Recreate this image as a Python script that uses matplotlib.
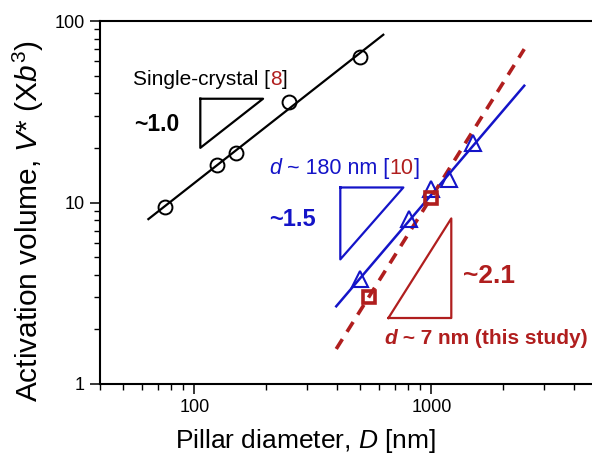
import matplotlib
matplotlib.use("Agg")
import matplotlib.pyplot as plt
import matplotlib.transforms as mtransforms
from matplotlib.ticker import LogLocator, FixedLocator, NullFormatter

plt.rcParams["font.family"] = ["Liberation Sans", "DejaVu Sans"]
plt.rcParams["mathtext.fontset"] = "custom"
plt.rcParams["mathtext.rm"] = "Liberation Sans"
plt.rcParams["mathtext.it"] = "Liberation Sans:italic"
plt.rcParams["mathtext.bf"] = "Liberation Sans:bold"

BLACK = "black"
BLUE = "#1414c8"
RED = "#b01e1e"

# single-crystal pillars [8]
sc_d = [75, 125, 150, 250, 500]
sc_v = [9.5, 16, 18.8, 36, 63]
sc_fit_d = [64, 627]
sc_fit_v = [8.1, 84]

# d ~ 180 nm [10]
nc180_d = [501, 807, 1000, 1190, 1500]
nc180_v = [3.8, 8.1, 11.9, 13.4, 21.4]
nc180_fit_d = [397, 2466]
nc180_fit_v = [2.68, 44]

# d ~ 7 nm (this study)
nc7_d = [547, 1000]
nc7_v = [3.0, 10.6]
nc7_fit_d = [397, 2466]
nc7_fit_v = [1.56, 70]

# slope triangles (x, y of the closed outline)
tri_black = ([106, 195, 106, 106], [37.3, 37.3, 20.0, 37.3])
tri_blue = ([413, 762, 413, 413], [12.1, 12.1, 4.86, 12.1])
tri_red = ([659, 1214, 1214, 659], [2.31, 2.31, 8.17, 2.31])

fig = plt.figure(figsize=(5.92, 4.63), dpi=100)
ax = fig.add_axes([100 / 592, 79 / 463, 497 / 592, 363 / 463])

ax.plot(sc_fit_d, sc_fit_v, color=BLACK, lw=1.6, zorder=2)
ax.plot(sc_d, sc_v, "o", ms=10, mfc="none", mec=BLACK, mew=1.4, zorder=3)

ax.plot(nc180_fit_d, nc180_fit_v, color=BLUE, lw=1.8, zorder=2)
ax.plot(nc180_d, nc180_v, "^", ms=11, mfc="none", mec=BLUE, mew=1.5, zorder=3)

ax.plot(nc7_fit_d, nc7_fit_v, color=RED, lw=2.6, ls=(0, (3.2, 2.4)), zorder=2)
ax.plot(nc7_d, nc7_v, "s", ms=9, mfc="none", mec=RED, mew=2.6, zorder=3)

ax.plot(*tri_black, color=BLACK, lw=1.6)
ax.plot(*tri_blue, color=BLUE, lw=1.6)
ax.plot(*tri_red, color=RED, lw=1.6)

ax.set_xscale("log")
ax.set_yscale("log")
ax.set_xlim(40, 5000)
ax.set_ylim(1, 100)

ax.xaxis.set_major_locator(FixedLocator([100, 1000]))
ax.xaxis.set_minor_locator(LogLocator(base=10, subs=range(2, 10)))
ax.xaxis.set_minor_formatter(NullFormatter())
ax.yaxis.set_major_locator(FixedLocator([1, 10, 100]))
ax.yaxis.set_minor_locator(LogLocator(base=10, subs=range(2, 10)))
ax.yaxis.set_minor_formatter(NullFormatter())
ax.set_xticklabels(["100", "1000"])
ax.set_yticklabels(["1", "10", "100"])

ax.tick_params(which="major", direction="out", length=7, width=1.1, labelsize=13, pad=4)
ax.tick_params(which="minor", direction="out", length=4, width=1.0)
ax.tick_params(top=False, right=False)
for s in ax.spines.values():
    s.set_linewidth(1.5)
ax.spines["right"].set_visible(False)

ax.set_xlabel(r"Pillar diameter, $D$ [nm]", fontsize=19, labelpad=8)
ax.set_ylabel(r"Activation volume, $V$* (X$b^3$)", fontsize=21.5, labelpad=6)
ax.xaxis.label.set_x(0.414)
ax.yaxis.label.set_y(0.45)


def colored_text(x, y, pieces, **kw):
    # pieces drawn one after another on a common baseline
    renderer = fig.canvas.get_renderer()
    offset = 0.0
    for s, c, w, st in pieces:
        tr = mtransforms.offset_copy(ax.transData, fig=fig, x=offset, y=0, units="dots")
        t = ax.text(x, y, s, color=c, fontweight=w, fontstyle=st, transform=tr,
                    ha="left", va="baseline", **kw)
        offset += t.get_window_extent(renderer).width


colored_text(55.3, 44.5, [("Single-crystal [", BLACK, "normal", "normal"),
                          ("8", RED, "normal", "normal"),
                          ("]", BLACK, "normal", "normal")], fontsize=15)
ax.text(55.7, 26.8, "~1.0", color=BLACK, fontsize=16.5, fontweight="bold",
        ha="left", va="center")

colored_text(207, 14.3, [("d", BLUE, "normal", "italic"),
                         (" ~ 180 nm [", BLUE, "normal", "normal"),
                         ("10", RED, "normal", "normal"),
                         ("]", BLUE, "normal", "normal")], fontsize=15.5)
ax.text(207, 8.07, "~1.5", color=BLUE, fontsize=17, fontweight="bold",
        ha="left", va="center")

ax.text(1365, 3.92, "~2.1", color=RED, fontsize=19, fontweight="bold",
        ha="left", va="center")
colored_text(634, 1.66, [("d", RED, "bold", "italic"),
                         (" ~ 7 nm (this study)", RED, "bold", "normal")], fontsize=15)

fig.savefig("out.png", dpi=100)
